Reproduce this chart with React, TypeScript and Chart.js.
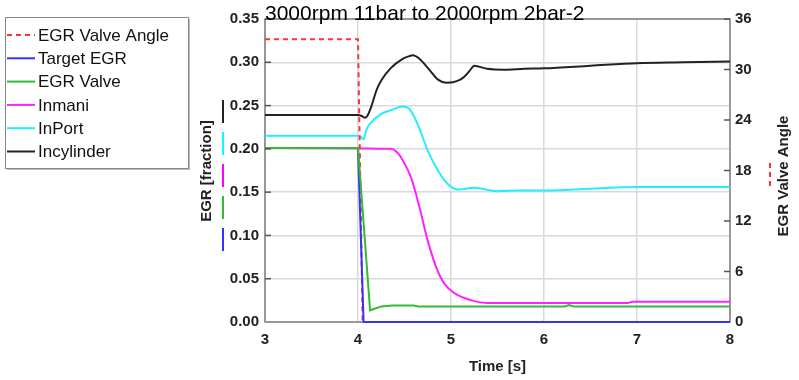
import React, { useEffect, useRef } from "react";
import { Chart, registerables } from "chart.js";

Chart.register(...registerables);

const TITLE = "3000rpm 11bar to 2000rpm 2bar-2";
const X_TICKS = [3, 4, 5, 6, 7, 8];

// EGR Valve Angle (right axis, degrees)
const T_ANGLE = [3, 4.0, 4.05, 8];
const ANGLE = [33.6, 33.6, 0, 0];

// Target EGR
const T_TARGET = [3, 4.0, 4.06, 8];
const TARGET = [0.201, 0.201, 0, 0];

// EGR Valve
const T_VALVE = [3, 4.0, 4.13, 4.25, 4.37, 4.6, 4.65, 6.22, 6.27, 6.32, 8];
const VALVE = [0.201, 0.201, 0.0135, 0.018, 0.019, 0.019, 0.018, 0.018, 0.0195, 0.018, 0.018];

// Inmani
const T_INMANI = [3, 4.35, 4.42, 4.48, 4.57, 4.66, 4.75, 4.84, 4.93, 5.04, 5.22, 5.39, 6.9, 6.95, 8];
const INMANI = [0.201, 0.2, 0.196, 0.187, 0.167, 0.133, 0.094, 0.0635, 0.044, 0.033, 0.025, 0.022, 0.022, 0.0235, 0.0235];

// InPort
const T_INPORT = [3, 4.0, 4.03, 4.06, 4.09, 4.13, 4.25, 4.35, 4.48, 4.55, 4.64, 4.75, 4.86, 4.96, 5.07, 5.25, 5.5, 5.72, 6, 6.5, 7, 8];
const INPORT = [0.215, 0.215, 0.214, 0.211, 0.222, 0.229, 0.2405, 0.2445, 0.249, 0.2465, 0.229, 0.198, 0.175, 0.16, 0.153, 0.155, 0.151, 0.152, 0.152, 0.154, 0.156, 0.156];

// Incylinder
const T_INCYL = [3, 4.0, 4.04, 4.07, 4.1, 4.14, 4.2, 4.25, 4.35, 4.48, 4.55, 4.59, 4.66, 4.77, 4.86, 4.95, 5.02, 5.1, 5.14, 5.2, 5.25, 5.39, 5.57, 5.79, 6, 6.5, 7, 7.5, 8];
const INCYL = [0.239, 0.239, 0.238, 0.236, 0.238, 0.248, 0.268, 0.279, 0.293, 0.304, 0.307, 0.308, 0.304, 0.291, 0.28, 0.2765, 0.277, 0.28, 0.283, 0.29, 0.296, 0.2925, 0.2915, 0.2925, 0.293, 0.296, 0.299, 0.3, 0.301];

const FONT = "'Liberation Sans', Arial, sans-serif";

const pts = (t: number[], v: number[]) => t.map((x, i) => ({ x, y: v[i] }));

const decorations = {
  id: "decorations",
  beforeDatasetsDraw(chart: any) {
    const ctx = chart.ctx;
    const a = chart.chartArea;
    ctx.save();
    ctx.strokeStyle = "#808080";
    ctx.lineWidth = 1.5;
    ctx.strokeRect(a.left, a.top, a.right - a.left, a.bottom - a.top);
    ctx.restore();
  },
  afterDraw(chart: any) {
    const ctx = chart.ctx;
    const a = chart.chartArea;
    const yL = chart.scales.y;
    const yR = chart.scales.y1;
    ctx.save();
    // inward ticks
    ctx.strokeStyle = "#555";
    ctx.lineWidth = 1.5;
    yL.ticks.forEach((t: any) => {
      const y = yL.getPixelForValue(t.value);
      if (t.value <= 0) return;
      ctx.beginPath();
      ctx.moveTo(a.left, y);
      ctx.lineTo(a.left + 6, y);
      ctx.stroke();
    });
    yR.ticks.forEach((t: any) => {
      const y = yR.getPixelForValue(t.value);
      if (t.value <= 0) return;
      ctx.beginPath();
      ctx.moveTo(a.right - 6, y);
      ctx.lineTo(a.right, y);
      ctx.stroke();
    });
    // title
    ctx.fillStyle = "#000";
    ctx.font = `21px ${FONT}`;
    ctx.textAlign = "left";
    ctx.textBaseline = "alphabetic";
    ctx.fillText(TITLE, 265, 20);

    // x title
    ctx.fillStyle = "#222";
    ctx.font = `bold 15px ${FONT}`;
    ctx.textAlign = "center";
    ctx.textBaseline = "middle";
    ctx.fillText("Time [s]", (a.left + a.right) / 2, 367);

    // left title
    ctx.save();
    ctx.translate(207, 171);
    ctx.rotate(-Math.PI / 2);
    ctx.fillText("EGR [fraction]", 0, 0);
    ctx.restore();
    // left colour marks
    const marks = ["#222222", "#00ffff", "#ff00ff", "#33bb33", "#3333ff"];
    marks.forEach((c, i) => {
      ctx.strokeStyle = c;
      ctx.lineWidth = 2;
      ctx.setLineDash([]);
      ctx.beginPath();
      ctx.moveTo(223, 100 + i * 32);
      ctx.lineTo(223, 123 + i * 32);
      ctx.stroke();
    });

    // right title
    ctx.save();
    ctx.translate(784, 176);
    ctx.rotate(-Math.PI / 2);
    ctx.fillStyle = "#222";
    ctx.fillText("EGR Valve Angle", 0, 0);
    ctx.restore();
    ctx.strokeStyle = "#ff3333";
    ctx.lineWidth = 2;
    ctx.setLineDash([5, 4]);
    ctx.beginPath();
    ctx.moveTo(770, 163);
    ctx.lineTo(770, 187);
    ctx.stroke();
    ctx.setLineDash([]);

    // legend
    const lx = 5, ly = 17, lw = 183, lh = 151;
    ctx.fillStyle = "#fff";
    ctx.fillRect(lx, ly, lw, lh);
    ctx.strokeStyle = "#bbb";
    ctx.lineWidth = 2;
    ctx.beginPath();
    ctx.moveTo(lx + lw + 1, ly + 2);
    ctx.lineTo(lx + lw + 1, ly + lh + 1);
    ctx.lineTo(lx + 2, ly + lh + 1);
    ctx.stroke();
    ctx.strokeStyle = "#888";
    ctx.lineWidth = 1;
    ctx.strokeRect(lx + 0.5, ly + 0.5, lw, lh);
    ctx.font = `17px ${FONT}`;
    ctx.textAlign = "left";
    ctx.textBaseline = "middle";
    chart.data.datasets.forEach((ds: any, i: number) => {
      const y = 35 + i * 23.3;
      ctx.strokeStyle = ds.borderColor;
      ctx.lineWidth = 2;
      ctx.setLineDash(ds.borderDash || []);
      ctx.beginPath();
      ctx.moveTo(7, y);
      ctx.lineTo(35, y);
      ctx.stroke();
      ctx.setLineDash([]);
      ctx.fillStyle = "#111";
      ctx.fillText(ds.label, 38, y + 1);
    });
    ctx.restore();
  },
};

export default function App() {
  const ref = useRef<HTMLCanvasElement>(null);
  useEffect(() => {
    const line = (label: string, data: any[], color: string, order: number, extra: any = {}) => ({
      label,
      data,
      borderColor: color,
      backgroundColor: color,
      borderWidth: 2,
      pointRadius: 0,
      tension: 0,
      fill: false,
      order,
      clip: 3,
      yAxisID: "y",
      ...extra,
    });
    const smooth = { cubicInterpolationMode: "monotone" };
    const chart = new Chart(ref.current!, {
      type: "line",
      data: {
        datasets: [
          line("EGR Valve Angle", pts(T_ANGLE, ANGLE), "#ff3333", 2, { borderDash: [5, 4], yAxisID: "y1" }),
          line("Target EGR", pts(T_TARGET, TARGET), "#3333ff", 1),
          line("EGR Valve", pts(T_VALVE, VALVE), "#33bb33", 0),
          line("Inmani", pts(T_INMANI, INMANI), "#ff22ff", 3, smooth),
          line("InPort", pts(T_INPORT, INPORT), "#22eeff", 4, smooth),
          line("Incylinder", pts(T_INCYL, INCYL), "#222222", 5, smooth),
        ],
      },
      options: {
        responsive: false,
        animation: false,
        devicePixelRatio: 1,
        layout: { padding: { top: 19, left: 0, right: 0, bottom: 0 } },
        plugins: { legend: { display: false }, tooltip: { enabled: false }, title: { display: false } },
        scales: {
          x: {
            type: "linear",
            min: 3,
            max: 8,
            afterBuildTicks: (s: any) => {
              s.ticks = X_TICKS.map((v) => ({ value: v }));
            },
            afterFit: (s: any) => {
              s.height = 58;
            },
            grid: { color: "#d9d9d9", lineWidth: 1.5, drawTicks: false },
            border: { display: false },
            ticks: {
              padding: 9,
              color: "#222",
              font: { family: FONT, size: 15, weight: "bold" },
              maxRotation: 0,
            },
          },
          y: {
            type: "linear",
            position: "left",
            min: 0,
            max: 0.35,
            ticks: {
              stepSize: 0.05,
              padding: 6,
              color: "#222",
              font: { family: FONT, size: 15, weight: "bold" },
              callback: (v: any) => Number(v).toFixed(2),
            },
            afterFit: (s: any) => {
              s.width = 265;
            },
            grid: { color: "#d9d9d9", lineWidth: 1.5, drawTicks: false },
            border: { display: false },
          },
          y1: {
            type: "linear",
            position: "right",
            min: 0,
            max: 36,
            ticks: {
              stepSize: 6,
              padding: 5,
              color: "#222",
              font: { family: FONT, size: 15, weight: "bold" },
            },
            afterFit: (s: any) => {
              s.width = 69;
            },
            grid: { drawOnChartArea: false, drawTicks: false },
            border: { display: false },
          },
        },
      },
      plugins: [decorations],
    } as any);
    return () => chart.destroy();
  }, []);
  return (
    <div style={{ position: "absolute", left: 0, top: 0, width: 799, height: 380, background: "#fff" }}>
      <canvas ref={ref} width={799} height={380} style={{ display: "block" }} />
    </div>
  );
}
